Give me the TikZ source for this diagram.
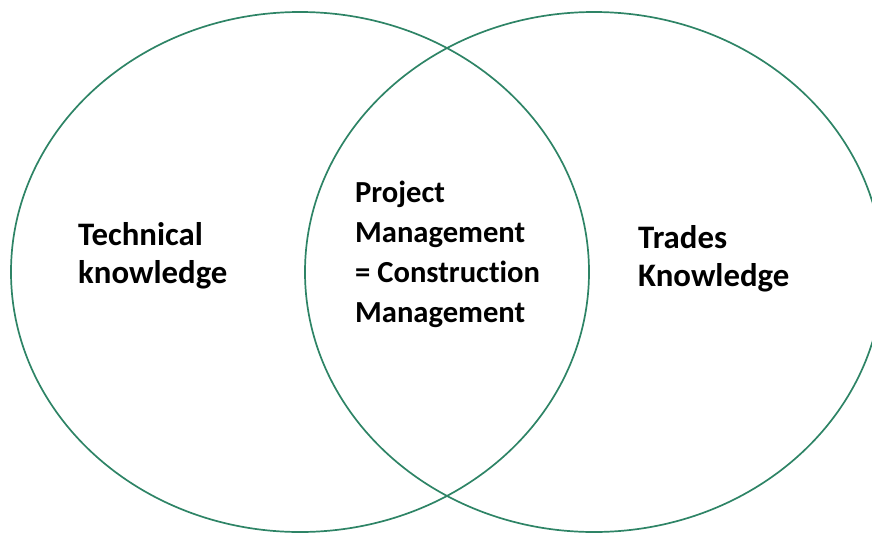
\documentclass[tikz,border=0pt]{standalone}
\usepackage{fontspec}
\setmainfont[Ligatures=NoCommon]{Carlito}
\definecolor{venngreen}{RGB}{46,132,102}
\begin{document}
\begin{tikzpicture}[x=1pt,y=-1pt,
  setline/.style={draw=venngreen,line width=1.7pt},
  label/.style={anchor=base west,inner sep=0pt,
    font=\fontsize{32.8}{38.5}\selectfont\bfseries},
  midlabel/.style={label,font=\fontsize{30.6}{40}\selectfont\bfseries}]
\useasboundingbox (0,0) rectangle (872,533);
\clip (0,0) rectangle (872,533);
% the two overlapping sets
\draw[setline] (300,272) ellipse [x radius=289,y radius=260];
\draw[setline] (594,272) ellipse [x radius=289,y radius=260];
% set labels (first-line baselines)
\node[label] (tech) at (78,245)
  {\begin{tabular}[t]{@{}l@{}}Technical\\knowledge\end{tabular}};
\node[midlabel] (pm) at (355,202)
  {\begin{tabular}[t]{@{}l@{}}Project\\Management\\= Construction\\Management\end{tabular}};
\node[label] (trades) at (638,248)
  {\begin{tabular}[t]{@{}l@{}}Trades\\Knowledge\end{tabular}};
\end{tikzpicture}
\end{document}
